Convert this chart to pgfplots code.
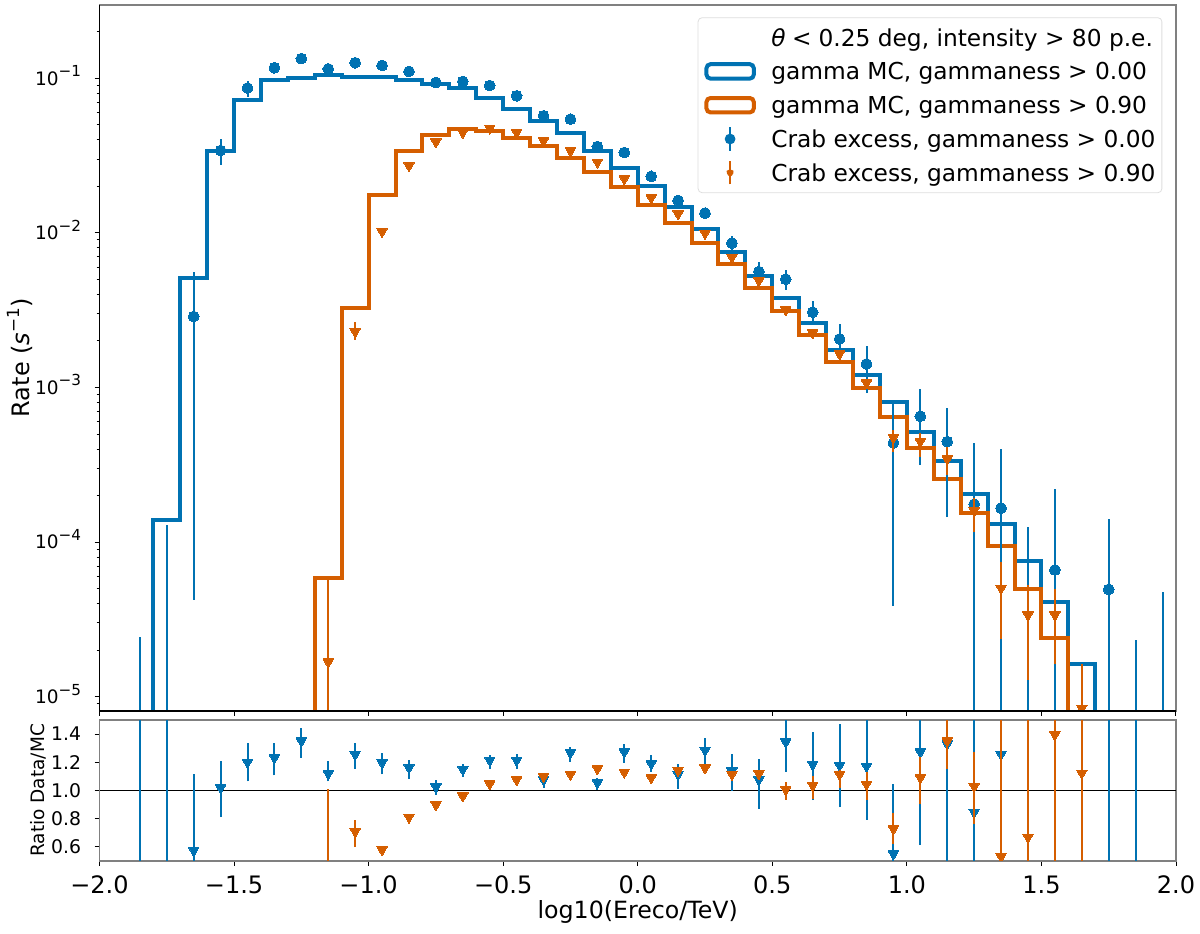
\documentclass[border=0pt]{standalone}
\usepackage{fontspec}
\setmainfont{DejaVu Sans}
\usepackage{pgfplots}
\pgfplotsset{compat=1.18}
\definecolor{cblue}{HTML}{0072B2}
\definecolor{corange}{HTML}{D55E00}
\definecolor{framegray}{HTML}{808080}
\newcommand\supr[2][7.6]{\raisebox{0.45em}{\fontsize{#1}{#1}\selectfont #2}}
\pgfplotsset{
  ebar/.style={line width=1pt, forget plot, unbounded coords=jump, mark=none},
  bdot/.style={cblue, only marks, forget plot, mark=*, mark size=2.7pt, mark options={solid, draw=cblue, fill=cblue, line width=0pt}},
  btri/.style={cblue, only marks, forget plot, mark=triangle*, mark size=3pt, mark options={solid, rotate=180, draw=cblue, fill=cblue, line width=0pt}},
  otri/.style={corange, only marks, forget plot, mark=triangle*, mark size=3pt, mark options={solid, rotate=180, draw=corange, fill=corange, line width=0pt}},
}
\begin{document}
\begin{tikzpicture}
\useasboundingbox (0,0) rectangle (600pt,466.5pt);
\begin{axis}[
  name=top, scale only axis, width=538.25pt, height=353.15pt,
  at={(49.75pt,111pt)}, anchor=south west,
  xmin=-2, xmax=2, ymode=log, ymin=8.09e-6, ymax=0.299,
  xtick={-2,-1.5,-1,-0.5,0,0.5,1,1.5,2}, xticklabel=\empty,
  ytick={1e-5,1e-4,1e-3,1e-2,1e-1},
  yticklabels={10\supr{−5},10\supr{−4},10\supr{−3},10\supr{−2},10\supr{−1}},
  minor ytick={9e-6,2e-5,3e-5,4e-5,5e-5,6e-5,7e-5,8e-5,9e-5,2e-4,3e-4,4e-4,5e-4,6e-4,7e-4,8e-4,9e-4,2e-3,3e-3,4e-3,5e-3,6e-3,7e-3,8e-3,9e-3,2e-2,3e-2,4e-2,5e-2,6e-2,7e-2,8e-2,9e-2,0.2},
  tick align=outside, xtick pos=bottom, ytick pos=left,
  major tick length=2.4pt, minor tick length=1.4pt,
  every tick/.style={black, line width=0.5pt},
  axis line style={framegray, line width=0.8pt},
  yticklabel style={font=\fontsize{9.25}{11}\selectfont, anchor=base east, inner sep=0pt, xshift=-6.6pt, yshift=-3.4pt},
  ylabel={Rate (\textit{s}\supr[8.4]{−1})},
  ylabel style={font=\fontsize{12}{14}\selectfont, at={(axis description cs:-0.07385,0.5)}, anchor=center},
  clip marker paths=true,
  legend cell align=left,
  legend style={at={(1,1)}, anchor=north east, xshift=-6.85pt, yshift=-6.3pt,
    draw=black!13, fill=white, rounded corners=2pt,
    font=\fontsize{11.65}{14}\selectfont, inner xsep=3.2pt, inner ysep=1.5pt, row sep=0pt, column sep=0pt,
    nodes={inner xsep=0pt, inner ysep=0pt, text height=12.7pt, text depth=4.2pt}},
]
% MC histograms
\addplot[cblue, line width=2pt, const plot, line join=miter, forget plot] coordinates {
(-1.9,1e-9) (-1.8,1.39e-4) (-1.7,5.14e-3) (-1.6,0.0340) (-1.5,0.0726) (-1.4,0.0968) (-1.3,0.101) (-1.2,0.105) (-1.1,0.102) (-1.0,0.102) (-0.9,0.097) (-0.8,0.0917) (-0.7,0.0865) (-0.6,0.0745) (-0.5,0.0632) (-0.4,0.0533) (-0.3,0.0442) (-0.2,0.0341) (-0.1,0.0262) (0.0,0.0200) (0.1,0.0147) (0.2,0.01062) (0.3,7.57e-3) (0.4,5.30e-3) (0.5,3.78e-3) (0.6,2.61e-3) (0.7,1.75e-3) (0.8,1.21e-3) (0.9,8.05e-4) (1.0,5.15e-4) (1.1,3.35e-4) (1.2,2.04e-4) (1.3,1.31e-4) (1.4,7.55e-5) (1.5,4.12e-5) (1.6,1.64e-5) (1.7,1e-9)};
\addplot[corange, line width=2pt, const plot, line join=miter, forget plot] coordinates {
(-1.3,1e-9) (-1.2,5.86e-5) (-1.1,3.29e-3) (-1.0,0.0176) (-0.9,0.0340) (-0.8,0.0431) (-0.7,0.0469) (-0.6,0.0453) (-0.5,0.0410) (-0.4,0.0362) (-0.3,0.0305) (-0.2,0.0246) (-0.1,0.0198) (0.0,0.0152) (0.1,0.01156) (0.2,8.59e-3) (0.3,6.31e-3) (0.4,4.39e-3) (0.5,3.14e-3) (0.6,2.19e-3) (0.7,1.47e-3) (0.8,1.0e-3) (0.9,6.41e-4) (1.0,4.07e-4) (1.1,2.55e-4) (1.2,1.54e-4) (1.3,9.49e-5) (1.4,4.98e-5) (1.5,2.41e-5) (1.6,7.5e-6) (1.7,1e-9)};
% Crab excess, gammaness > 0.00: error bars and points
\addplot[cblue, ebar] coordinates {
(-1.85,1e-9) (-1.85,2.45e-5) (-1.85,nan)
(-1.75,1e-9) (-1.75,1.29e-4) (-1.75,nan)
(-1.65,4.23e-5) (-1.65,5.62e-3) (-1.65,nan)
(-1.55,0.0276) (-1.55,0.0405) (-1.55,nan)
(-1.45,0.0762) (-1.45,0.0964) (-1.45,nan)
(-1.35,0.107) (-1.35,0.1265) (-1.35,nan)
(-1.25,0.129) (-1.25,0.139) (-1.25,nan)
(0.35,7.76e-3) (0.35,9.51e-3) (0.35,nan)
(0.45,4.50e-3) (0.45,6.53e-3) (0.45,nan)
(0.55,4.28e-3) (0.55,5.77e-3) (0.55,nan)
(0.65,2.54e-3) (0.65,3.65e-3) (0.65,nan)
(0.75,1.67e-3) (0.75,2.58e-3) (0.75,nan)
(0.85,9.2e-4) (0.85,1.86e-3) (0.85,nan)
(0.95,3.88e-5) (0.95,8.32e-4) (0.95,nan)
(1.05,3.15e-4) (1.05,9.75e-4) (1.05,nan)
(1.15,1.45e-4) (1.15,7.41e-4) (1.15,nan)
(1.25,1e-9) (1.25,4.37e-4) (1.25,nan)
(1.35,1e-9) (1.35,3.99e-4) (1.35,nan)
(1.45,1e-9) (1.45,1.26e-4) (1.45,nan)
(1.55,1e-9) (1.55,2.20e-4) (1.55,nan)
(1.75,1e-9) (1.75,1.41e-4) (1.75,nan)
(1.85,1e-9) (1.85,2.34e-5) (1.85,nan)
(1.95,1e-9) (1.95,4.78e-5)};
\addplot[bdot] coordinates {
(-1.65,2.88e-3) (-1.55,0.0341) (-1.45,0.0865) (-1.35,0.117) (-1.25,0.134) (-1.15,0.115) (-1.05,0.126) (-0.95,0.121) (-0.85,0.1107) (-0.75,0.0939) (-0.65,0.0954) (-0.55,0.0898) (-0.45,0.0770) (-0.35,0.0572) (-0.25,0.0544) (-0.15,0.0362) (-0.05,0.0331) (0.05,0.0232) (0.15,0.0162) (0.25,0.01342) (0.35,8.59e-3) (0.45,5.62e-3) (0.55,5.02e-3) (0.65,3.07e-3) (0.75,2.06e-3) (0.85,1.42e-3) (0.95,4.38e-4) (1.05,6.52e-4) (1.15,4.47e-4) (1.25,1.76e-4) (1.35,1.66e-4) (1.55,6.61e-5) (1.75,4.95e-5)};
% Crab excess, gammaness > 0.90
\addplot[corange, ebar] coordinates {
(-1.15,1e-9) (-1.15,5.95e-5) (-1.15,nan)
(-1.05,2.03e-3) (-1.05,2.66e-3) (-1.05,nan)
(0.95,3.85e-4) (0.95,5.32e-4) (0.95,nan)
(1.05,3.57e-4) (1.05,5.08e-4) (1.05,nan)
(1.15,2.72e-4) (1.15,4.15e-4) (1.15,nan)
(1.25,1.17e-4) (1.25,1.92e-4) (1.25,nan)
(1.35,2.35e-5) (1.35,7.47e-5) (1.35,nan)
(1.45,1.28e-5) (1.45,5.28e-5) (1.45,nan)
(1.55,1.64e-5) (1.55,4.96e-5) (1.55,nan)
(1.65,1e-9) (1.65,1.64e-5)};
\addplot[otri] coordinates {
(-1.15,1.68e-5) (-1.05,2.30e-3) (-0.95,0.0102) (-0.85,0.0272) (-0.75,0.0388) (-0.65,0.0446) (-0.55,0.0476) (-0.45,0.0446) (-0.35,0.0394) (-0.25,0.0340) (-0.15,0.0287) (-0.05,0.0224) (0.05,0.01686) (0.15,0.01327) (0.25,9.96e-3) (0.35,6.97e-3) (0.45,4.92e-3) (0.55,3.18e-3) (0.65,2.26e-3) (0.75,1.65e-3) (0.85,1.07e-3) (0.95,4.75e-4) (1.05,4.47e-4) (1.15,3.45e-4) (1.25,1.60e-4) (1.35,5.03e-5) (1.45,3.38e-5) (1.55,3.38e-5) (1.65,8.45e-6)};
% legend
\addlegendimage{empty legend}
\addlegendentry{\textit{θ}\hspace{0.28em}<\hspace{0.3em}0.25 deg, intensity > 80 p.e.}
\addlegendimage{legend image code/.code={\draw[cblue, line width=2pt] (1pt,-3.6pt) rectangle (24.65pt,3.6pt); \path[draw=none, fill=none] (0pt,0pt) -- (33.4pt,0pt);}}
\addlegendentry{gamma MC, gammaness > 0.00}
\addlegendimage{legend image code/.code={\draw[corange, line width=2pt] (1pt,-3.6pt) rectangle (24.65pt,3.6pt); \path[draw=none, fill=none] (0pt,0pt) -- (33.4pt,0pt);}}
\addlegendentry{gamma MC, gammaness > 0.90}
\addlegendimage{legend image code/.code={\draw[cblue, line width=1pt] (12.8pt,-5.8pt) -- (12.8pt,5.8pt); \path[fill=cblue, draw=none] (12.8pt,0pt) circle (2.7pt); \path[draw=none, fill=none] (0pt,0pt) -- (33.4pt,0pt);}}
\addlegendentry{Crab excess, gammaness > 0.00}
\addlegendimage{legend image code/.code={\draw[corange, line width=1pt] (12.8pt,-5.8pt) -- (12.8pt,5.8pt); \path[fill=corange, draw=none] (12.8pt,-3pt) -- (10.2pt,1.5pt) -- (15.4pt,1.5pt) -- cycle; \path[draw=none, fill=none] (0pt,0pt) -- (33.4pt,0pt);}}
\addlegendentry{Crab excess, gammaness > 0.90}
\end{axis}
\draw[black, line width=0.6pt] (top.north west) -- (top.south west) -- (top.south east);

\begin{axis}[
  name=bot, scale only axis, width=538.25pt, height=70.35pt,
  at={(49.75pt,36.15pt)}, anchor=south west,
  xmin=-2, xmax=2, ymin=0.5, ymax=1.5,
  xtick={-2,-1.5,-1,-0.5,0,0.5,1,1.5,2},
  xticklabels={−2.0,−1.5,−1.0,−0.5,0.0,0.5,1.0,1.5,2.0},
  ytick={0.6,0.8,1.0,1.2,1.4}, yticklabels={0.6,0.8,1.0,1.2,1.4},
  tick align=outside, xtick pos=bottom, ytick pos=left,
  major tick length=2.4pt,
  every tick/.style={black, line width=0.5pt},
  axis line style={framegray, line width=0.8pt},
  xticklabel style={font=\fontsize{12}{14}\selectfont, anchor=north, inner sep=0pt, yshift=-5pt},
  yticklabel style={font=\fontsize{9.4}{11}\selectfont, anchor=base east, inner sep=0pt, xshift=-6.6pt, yshift=-3.4pt},
  xlabel={log10(Ereco/TeV)},
  xlabel style={font=\fontsize{11.85}{14}\selectfont, at={(axis description cs:0.5,-0.3646)}, anchor=center},
  ylabel={Ratio Data/MC},
  ylabel style={font=\fontsize{9.25}{11}\selectfont, at={(axis description cs:-0.05667,0.5)}, anchor=center},
  clip marker paths=true,
]
\addplot[black, line width=0.75pt, forget plot] coordinates {(-2,1) (2,1)};
\addplot[cblue, ebar] coordinates {
(-1.85,0.3) (-1.85,1.7) (-1.85,nan)
(-1.75,0.3) (-1.75,1.7) (-1.75,nan)
(-1.65,0.3) (-1.65,1.114) (-1.65,nan)
(-1.55,0.81) (-1.55,1.206) (-1.55,nan)
(-1.45,1.064) (-1.45,1.337) (-1.45,nan)
(-1.35,1.107) (-1.35,1.339) (-1.35,nan)
(-1.25,1.232) (-1.25,1.443) (-1.25,nan)
(-1.15,1.064) (-1.15,1.206) (-1.15,nan)
(-1.05,1.154) (-1.05,1.337) (-1.05,nan)
(-0.95,1.114) (-0.95,1.268) (-0.95,nan)
(-0.85,1.083) (-0.85,1.218) (-0.85,nan)
(-0.75,0.97) (-0.75,1.076) (-0.75,nan)
(-0.65,1.095) (-0.65,1.19) (-0.65,nan)
(-0.55,1.154) (-0.55,1.249) (-0.55,nan)
(-0.45,1.154) (-0.45,1.261) (-0.45,nan)
(-0.35,1.019) (-0.35,1.119) (-0.35,nan)
(-0.25,1.202) (-0.25,1.309) (-0.25,nan)
(-0.15,1.005) (-0.15,1.09) (-0.15,nan)
(-0.05,1.195) (-0.05,1.328) (-0.05,nan)
(0.05,1.131) (0.05,1.249) (0.05,nan)
(0.15,1.012) (0.15,1.185) (0.15,nan)
(0.25,1.178) (0.25,1.375) (0.25,nan)
(0.35,0.995) (0.35,1.256) (0.35,nan)
(0.45,0.87) (0.45,1.225) (0.45,nan)
(0.55,1.131) (0.55,1.7) (0.55,nan)
(0.65,0.93) (0.65,1.415) (0.65,nan)
(0.75,0.88) (0.75,1.475) (0.75,nan)
(0.85,0.79) (0.85,1.7) (0.85,nan)
(0.95,0.3) (0.95,1.043) (0.95,nan)
(1.05,0.61) (1.05,1.7) (1.05,nan)
(1.15,0.3) (1.15,1.7) (1.15,nan)
(1.25,0.3) (1.25,1.7) (1.25,nan)
(1.35,0.3) (1.35,1.7) (1.35,nan)
(1.45,0.3) (1.45,1.7) (1.45,nan)
(1.55,0.3) (1.55,1.7) (1.55,nan)
(1.75,0.3) (1.75,1.7) (1.75,nan)
(1.85,0.3) (1.85,1.7)};
\addplot[btri] coordinates {
(-1.65,0.573) (-1.55,1.019) (-1.45,1.20) (-1.35,1.232) (-1.25,1.351) (-1.15,1.119) (-1.05,1.256) (-0.95,1.197) (-0.85,1.161) (-0.75,1.024) (-0.65,1.149) (-0.55,1.214) (-0.45,1.214) (-0.35,1.076) (-0.25,1.268) (-0.15,1.055) (-0.05,1.273) (0.05,1.19) (0.15,1.114) (0.25,1.285) (0.35,1.138) (0.45,1.076) (0.55,1.344) (0.65,1.185) (0.75,1.178) (0.85,1.171) (0.95,0.549) (1.05,1.273) (1.15,1.33) (1.25,0.846) (1.35,1.256)};
\addplot[corange, ebar] coordinates {
(-1.15,0.3) (-1.15,1.012) (-1.15,nan)
(-1.05,0.597) (-1.05,0.786) (-1.05,nan)
(0.55,0.934) (0.55,1.06) (0.55,nan)
(0.65,0.94) (0.65,1.10) (0.65,nan)
(0.75,1.019) (0.75,1.142) (0.75,nan)
(0.85,0.93) (0.85,1.13) (0.85,nan)
(0.95,0.62) (0.95,0.84) (0.95,nan)
(1.05,0.905) (1.05,1.237) (1.05,nan)
(1.15,1.15) (1.15,1.7) (1.15,nan)
(1.25,0.763) (1.25,1.273) (1.25,nan)
(1.35,0.3) (1.35,1.7) (1.35,nan)
(1.45,0.3) (1.45,1.7) (1.45,nan)
(1.55,0.3) (1.55,1.7) (1.55,nan)
(1.65,0.3) (1.65,1.7)};
\addplot[otri] coordinates {
(-1.05,0.708) (-0.95,0.578) (-0.85,0.81) (-0.75,0.898) (-0.65,0.96) (-0.55,1.047) (-0.45,1.076) (-0.35,1.10) (-0.25,1.114) (-0.15,1.154) (-0.05,1.13) (0.05,1.09) (0.15,1.142) (0.25,1.159) (0.35,1.114) (0.45,1.119) (0.55,1.007) (0.65,1.036) (0.75,1.114) (0.85,1.043) (0.95,0.727) (1.05,1.09) (1.15,1.351) (1.25,1.028) (1.35,0.53) (1.45,0.668) (1.55,1.396) (1.65,1.123)};
\end{axis}
\end{tikzpicture}
\end{document}
